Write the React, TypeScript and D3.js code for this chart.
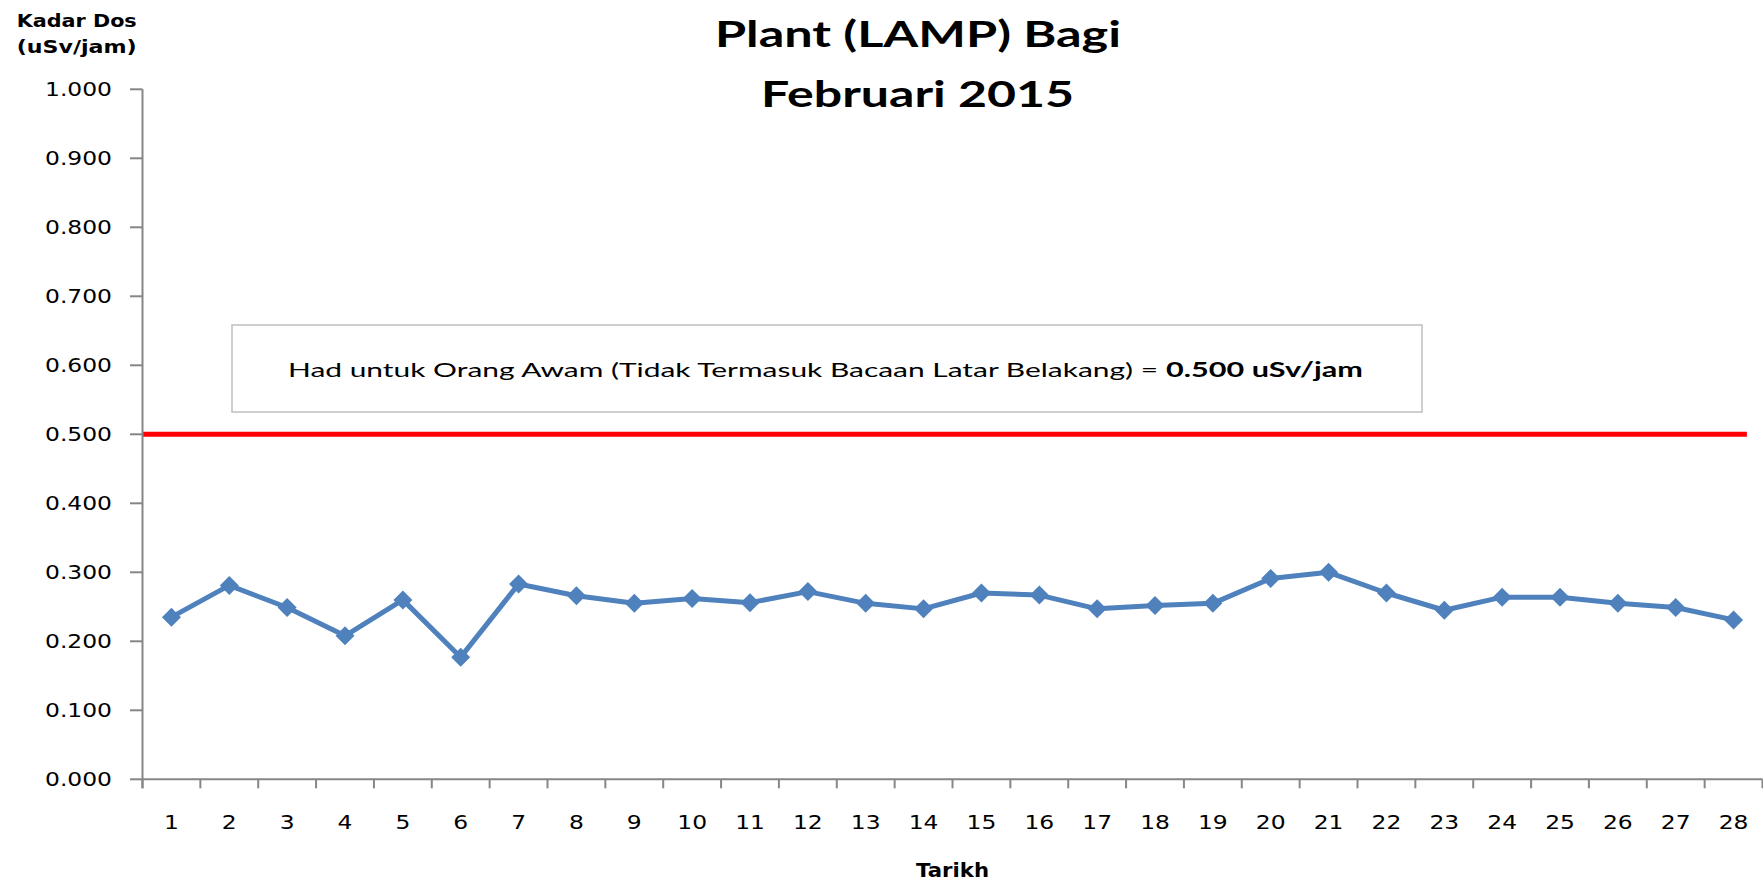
import React from "react";
import * as d3 from "d3";

const days: number[] = Array.from({ length: 28 }, (_, i) => i + 1);
const doseValues: number[] = [
  0.235, 0.281, 0.249, 0.208, 0.26, 0.177, 0.283, 0.266, 0.255, 0.262,
  0.256, 0.272, 0.255, 0.247, 0.27, 0.267, 0.247, 0.252, 0.255, 0.291,
  0.3, 0.27, 0.245, 0.264, 0.264, 0.255, 0.249, 0.231,
];
const yTickValues: number[] = [0, 0.1, 0.2, 0.3, 0.4, 0.5, 0.6, 0.7, 0.8, 0.9, 1.0];
const limitValue = 0.5;
const titleLines: string[] = ["Plant (LAMP) Bagi", "Februari 2015"];
const yTitleLines: string[] = ["Kadar Dos", "(uSv/jam)"];
const xTitle = "Tarikh";
const noteNormal = "Had untuk Orang Awam (Tidak Termasuk Bacaan Latar Belakang) = ";
const noteBold = "0.500 uSv/jam";

const W = 1763;
const H = 882;
const left = 142.5;
const right = 1762.5;
const top = 89.3;
const bottom = 779.3;

export default function App() {
  const x = d3.scaleBand<number>().domain(days).range([left, right]).padding(0);
  const y = d3.scaleLinear().domain([0, 1]).range([bottom, top]);
  const fmt = d3.format(".3f");
  const cx = (d: number) => (x(d) as number) + x.bandwidth() / 2;

  const line = d3
    .line<number>()
    .x((_, i) => cx(days[i]))
    .y((v) => y(v));

  const diamond = "M0,-9.5L9.5,0L0,9.5L-9.5,0Z";
  const axisColor = "#868686";
  const tickFont = "'DejaVu Sans', Verdana, sans-serif";
  const calFont = "Lato, 'Open Sans', sans-serif";

  const bounds = [...days.map((d) => x(d) as number), right];
  const redEnd = cx(days[days.length - 1]) + x.bandwidth() * 0.23;

  return (
    <div style={{ position: "fixed", left: 0, top: 0, width: W, height: H, background: "#fff" }}>
      <svg width={W} height={H} style={{ display: "block" }}>
        <rect x={0} y={0} width={W} height={H} fill="#fff" />

        {/* title */}
        <text
          x={918}
          y={46.7}
          textAnchor="middle"
          fontFamily={calFont}
          fontWeight={700}
          fontSize={36}
          textLength={406}
          lengthAdjust="spacingAndGlyphs"
          fill="#000"
        >
          {titleLines[0]}
        </text>
        <text
          x={917.5}
          y={106.7}
          textAnchor="middle"
          fontFamily={calFont}
          fontWeight={700}
          fontSize={36}
          textLength={313}
          lengthAdjust="spacingAndGlyphs"
          fill="#000"
        >
          {titleLines[1]}
        </text>

        {/* y axis title */}
        {yTitleLines.map((t, i) => (
          <text
            key={t}
            x={16.7}
            y={26.7 + i * 26.5}
            fontFamily={tickFont}
            fontWeight={700}
            fontSize={17}
            textLength={120}
            lengthAdjust="spacingAndGlyphs"
            fill="#000"
          >
            {t}
          </text>
        ))}

        {/* annotation box */}
        <rect x={232} y={325} width={1190} height={87} fill="#fff" stroke="#BFBFBF" strokeWidth={1.5} />
        <text
          x={288}
          y={377}
          fontFamily={calFont}
          fontSize={20}
          textLength={870}
          lengthAdjust="spacingAndGlyphs"
          fill="#000"
        >
          {noteNormal}
        </text>
        <text
          x={1166}
          y={377}
          fontFamily={calFont}
          fontWeight={700}
          fontSize={20}
          textLength={197}
          lengthAdjust="spacingAndGlyphs"
          fill="#000"
        >
          {noteBold}
        </text>

        {/* red limit line */}
        <line x1={left} x2={redEnd} y1={y(limitValue)} y2={y(limitValue)} stroke="#FF0000" strokeWidth={5} />

        {/* y axis */}
        <line x1={left} x2={left} y1={top} y2={bottom + 9} stroke={axisColor} strokeWidth={2} />
        {yTickValues.map((v) => (
          <g key={v}>
            <line x1={left - 12.5} x2={left} y1={y(v)} y2={y(v)} stroke={axisColor} strokeWidth={2} />
            <g transform={`translate(112,${y(v)}) scale(1.2,1)`}>
              <text x={0} y={0} dy="0.36em" textAnchor="end" fontFamily={tickFont} fontSize={19.5} fill="#000">
                {fmt(v)}
              </text>
            </g>
          </g>
        ))}

        {/* x axis */}
        <line x1={left} x2={right} y1={bottom} y2={bottom} stroke={axisColor} strokeWidth={2} />
        {bounds.map((b, i) => (
          <line key={i} x1={b} x2={b} y1={bottom} y2={bottom + 9} stroke={axisColor} strokeWidth={2} />
        ))}
        {days.map((d) => (
          <g key={d} transform={`translate(${cx(d)},829) scale(1.2,1)`}>
            <text x={0} y={0} textAnchor="middle" fontFamily={tickFont} fontSize={19.5} fill="#000">
              {d}
            </text>
          </g>
        ))}
        <text
          x={(left + right) / 2}
          y={877}
          textAnchor="middle"
          fontFamily={tickFont}
          fontWeight={700}
          fontSize={19}
          textLength={73}
          lengthAdjust="spacingAndGlyphs"
          fill="#000"
        >
          {xTitle}
        </text>

        {/* data line */}
        <path d={line(doseValues) || ""} fill="none" stroke="#4F81BD" strokeWidth={5} strokeLinejoin="round" />
        {doseValues.map((v, i) => (
          <path key={i} d={diamond} transform={`translate(${cx(days[i])},${y(v)})`} fill="#4F81BD" />
        ))}
      </svg>
    </div>
  );
}
